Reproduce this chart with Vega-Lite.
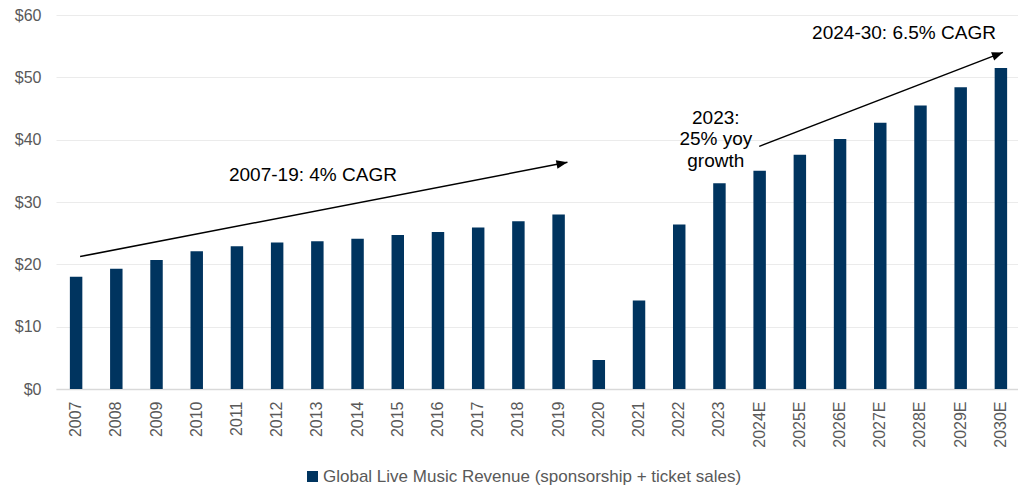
{
  "$schema": "https://vega.github.io/schema/vega-lite/v6.json",
  "width": 965,
  "height": 374,
  "autosize": {"type": "none"},
  "padding": {"left": 56, "top": 15, "right": 0, "bottom": 98},
  "background": "white",
  "config": {
    "font": "Liberation Sans",
    "view": {"stroke": null},
    "axis": {"ticks": false, "title": null}
  },
  "datasets": {
    "bars": [
      {"year": "2007", "value": 18.0, "series": "Global Live Music Revenue (sponsorship + ticket sales)"},
      {"year": "2008", "value": 19.3, "series": "Global Live Music Revenue (sponsorship + ticket sales)"},
      {"year": "2009", "value": 20.7, "series": "Global Live Music Revenue (sponsorship + ticket sales)"},
      {"year": "2010", "value": 22.1, "series": "Global Live Music Revenue (sponsorship + ticket sales)"},
      {"year": "2011", "value": 22.9, "series": "Global Live Music Revenue (sponsorship + ticket sales)"},
      {"year": "2012", "value": 23.5, "series": "Global Live Music Revenue (sponsorship + ticket sales)"},
      {"year": "2013", "value": 23.7, "series": "Global Live Music Revenue (sponsorship + ticket sales)"},
      {"year": "2014", "value": 24.1, "series": "Global Live Music Revenue (sponsorship + ticket sales)"},
      {"year": "2015", "value": 24.7, "series": "Global Live Music Revenue (sponsorship + ticket sales)"},
      {"year": "2016", "value": 25.2, "series": "Global Live Music Revenue (sponsorship + ticket sales)"},
      {"year": "2017", "value": 25.9, "series": "Global Live Music Revenue (sponsorship + ticket sales)"},
      {"year": "2018", "value": 26.9, "series": "Global Live Music Revenue (sponsorship + ticket sales)"},
      {"year": "2019", "value": 28.0, "series": "Global Live Music Revenue (sponsorship + ticket sales)"},
      {"year": "2020", "value": 4.65, "series": "Global Live Music Revenue (sponsorship + ticket sales)"},
      {"year": "2021", "value": 14.2, "series": "Global Live Music Revenue (sponsorship + ticket sales)"},
      {"year": "2022", "value": 26.4, "series": "Global Live Music Revenue (sponsorship + ticket sales)"},
      {"year": "2023", "value": 33.0, "series": "Global Live Music Revenue (sponsorship + ticket sales)"},
      {"year": "2024E", "value": 35.0, "series": "Global Live Music Revenue (sponsorship + ticket sales)"},
      {"year": "2025E", "value": 37.6, "series": "Global Live Music Revenue (sponsorship + ticket sales)"},
      {"year": "2026E", "value": 40.1, "series": "Global Live Music Revenue (sponsorship + ticket sales)"},
      {"year": "2027E", "value": 42.7, "series": "Global Live Music Revenue (sponsorship + ticket sales)"},
      {"year": "2028E", "value": 45.5, "series": "Global Live Music Revenue (sponsorship + ticket sales)"},
      {"year": "2029E", "value": 48.4, "series": "Global Live Music Revenue (sponsorship + ticket sales)"},
      {"year": "2030E", "value": 51.5, "series": "Global Live Music Revenue (sponsorship + ticket sales)"}
    ],
    "arrows": [
      {"id": "a1", "x1": 0.6, "y1": 21.24, "x2": 12.72, "y2": 36.36},
      {"id": "a2", "x1": 17.49, "y1": 38.93, "x2": 23.55, "y2": 54.0}
    ],
    "labels": [
      {"label": "2007-19: 4% CAGR", "ax": 6.39, "ay": 33.4},
      {"label": "2024-30: 6.5% CAGR", "ax": 21.09, "ay": 56.15},
      {"label": "2023:\n25% yoy\ngrowth", "ax": 16.41, "ay": 42.52}
    ]
  },
  "resolve": {"scale": {"x": "independent", "color": "independent"}},
  "layer": [
    {
      "data": {"name": "bars"},
      "mark": {"type": "bar"},
      "encoding": {
        "x": {
          "field": "year",
          "type": "ordinal",
          "sort": null,
          "scale": {"paddingInner": 0.69, "paddingOuter": 0.345},
          "axis": {
            "labelAngle": -90,
            "labelPadding": 12,
            "labelFontSize": 16,
            "labelColor": "#595959",
            "domainColor": "#d9d9d9",
            "domainWidth": 1.5,
            "grid": false,
            "title": null
          }
        },
        "y": {
          "field": "value",
          "type": "quantitative",
          "scale": {"domain": [0, 60], "nice": false},
          "axis": {
            "values": [0, 10, 20, 30, 40, 50, 60],
            "format": "$.0f",
            "labelFontSize": 16,
            "labelColor": "#595959",
            "labelPadding": 15,
            "domain": false,
            "grid": true,
            "gridColor": "#ebebeb",
            "gridWidth": 1,
            "title": null
          }
        },
        "color": {
          "field": "series",
          "type": "nominal",
          "scale": {"range": ["#00345f"]},
          "legend": {
            "title": null,
            "orient": "none",
            "legendX": 248,
            "legendY": 453,
            "direction": "horizontal",
            "symbolType": "square",
            "symbolSize": 121,
            "symbolStrokeWidth": 0,
            "symbolOpacity": 1,
            "labelFontSize": 17,
            "labelColor": "#595959",
            "labelLimit": 800,
            "labelOffset": 2,
            "padding": 0
          }
        }
      }
    },
    {
      "data": {"name": "arrows"},
      "mark": {"type": "rule", "color": "#000000", "strokeWidth": 1.5},
      "encoding": {
        "x": {"field": "x1", "type": "quantitative", "scale": {"domain": [0, 24], "nice": false, "zero": false}, "axis": null},
        "x2": {"field": "x2"},
        "y": {"field": "y1", "type": "quantitative", "title": null},
        "y2": {"field": "y2"}
      }
    },
    {
      "data": {"name": "arrows"},
      "transform": [{"filter": "datum.id === 'a1'"}],
      "mark": {"type": "point", "shape": "M0,0L-2,-0.8L-2,0.8Z", "filled": true, "color": "#000000", "size": 121, "opacity": 1, "angle": 349},
      "encoding": {
        "x": {"field": "x2", "type": "quantitative", "scale": {"domain": [0, 24], "nice": false, "zero": false}, "axis": null},
        "y": {"field": "y2", "type": "quantitative", "title": null}
      }
    },
    {
      "data": {"name": "arrows"},
      "transform": [{"filter": "datum.id === 'a2'"}],
      "mark": {"type": "point", "shape": "M0,0L-2,-0.8L-2,0.8Z", "filled": true, "color": "#000000", "size": 121, "opacity": 1, "angle": 339},
      "encoding": {
        "x": {"field": "x2", "type": "quantitative", "scale": {"domain": [0, 24], "nice": false, "zero": false}, "axis": null},
        "y": {"field": "y2", "type": "quantitative", "title": null}
      }
    },
    {
      "data": {"name": "labels"},
      "mark": {"type": "text", "align": "center", "baseline": "alphabetic", "fontSize": 19, "color": "#000000", "lineBreak": "\n", "lineHeight": 21.5},
      "encoding": {
        "x": {"field": "ax", "type": "quantitative", "scale": {"domain": [0, 24], "nice": false, "zero": false}, "axis": null},
        "y": {"field": "ay", "type": "quantitative", "title": null},
        "text": {"field": "label"}
      }
    }
  ]
}
